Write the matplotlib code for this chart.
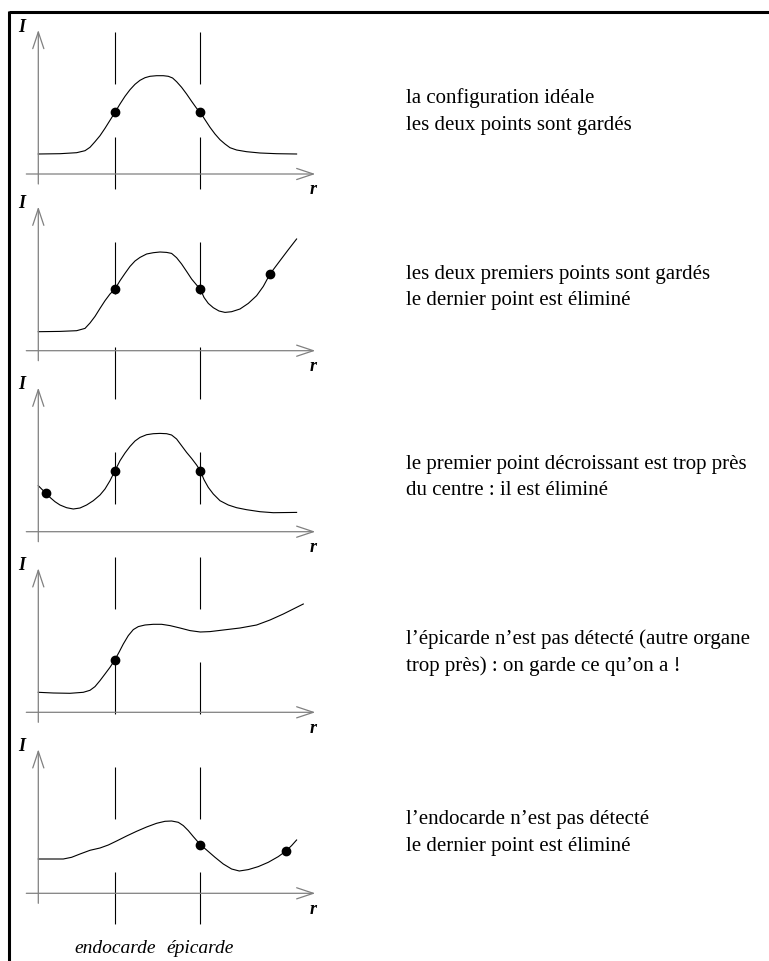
import numpy as np
import matplotlib.pyplot as plt
from matplotlib.lines import Line2D

plt.rcParams['font.family'] = ['Liberation Serif', 'DejaVu Serif']
plt.rcParams['lines.scale_dashes'] = False

# positions des deux contours sur l'axe r
r_endo = 7.7
r_epi = 16.2

# profils d'intensite I(r), un par cas
r1 = [0, 2.17, 3.83, 4.67, 5.17, 5.67, 6.17, 6.67, 7.17, 7.67, 8.17, 8.67, 9.17, 9.67, 10.17, 10.67,
      11.17, 11.83, 12.5, 13.0, 13.43, 13.83, 14.33, 14.83, 15.33, 15.83, 16.2, 16.67, 17.17, 17.67,
      18.17, 18.67, 19.17, 19.83, 20.83, 22.17, 23.83, 25.83]
I1 = [2.0, 2.03, 2.13, 2.33, 2.67, 3.23, 3.83, 4.57, 5.37, 6.17, 7.0, 7.77, 8.43, 8.97, 9.37, 9.63,
      9.77, 9.83, 9.83, 9.77, 9.6, 9.23, 8.67, 8.0, 7.27, 6.57, 6.17, 5.43, 4.67, 4.0,
      3.43, 3.0, 2.63, 2.4, 2.23, 2.1, 2.03, 2.0]

r2 = [0, 2.17, 3.83, 4.67, 5.17, 5.67, 6.17, 6.67, 7.17, 7.67, 8.17, 8.67, 9.17, 9.67, 10.17, 10.83,
      11.5, 12.17, 12.83, 13.33, 13.83, 14.33, 14.83, 15.33, 15.83, 16.2, 16.57, 17.0, 17.5, 18.07,
      18.67, 19.33, 20.17, 21.0, 21.83, 22.5, 23.17, 24.17, 25.0, 25.83]
I2 = [1.9, 1.93, 2.0, 2.23, 2.77, 3.43, 4.23, 5.0, 5.67, 6.17, 7.0, 7.73, 8.43, 8.97, 9.33, 9.67,
      9.8, 9.87, 9.83, 9.73, 9.3, 8.67, 7.93, 7.17, 6.57, 6.17, 5.33, 4.73, 4.3, 3.97,
      3.83, 3.9, 4.17, 4.73, 5.5, 6.43, 7.67, 9.0, 10.1, 11.17]

r3 = [0, 0.73, 1.17, 1.67, 2.17, 2.83, 3.5, 4.17, 4.83, 5.5, 6.17, 6.67, 7.17, 7.67, 8.17, 8.67,
      9.17, 9.67, 10.17, 10.83, 11.5, 12.17, 12.83, 13.33, 13.83, 14.33, 14.83, 15.33, 15.83, 16.2,
      16.57, 17.0, 17.5, 18.17, 19.0, 19.83, 20.83, 22.17, 23.5, 25.83]
I3 = [4.6, 3.87, 3.43, 3.0, 2.67, 2.4, 2.27, 2.37, 2.67, 3.1, 3.67, 4.27, 5.1, 6.1, 7.1, 7.87,
      8.53, 9.07, 9.43, 9.7, 9.8, 9.83, 9.8, 9.67, 9.27, 8.6, 7.93, 7.33, 6.67, 6.1,
      5.2, 4.43, 3.77, 3.1, 2.67, 2.4, 2.2, 2.0, 1.9, 1.93]

r4 = [0, 1.5, 3.17, 4.5, 5.17, 5.67, 6.17, 6.67, 7.17, 7.67, 8.07, 8.5, 9.0, 9.5, 10.0, 10.67,
      11.5, 12.33, 13.17, 14.17, 15.17, 16.2, 17.17, 18.5, 20.17, 21.83, 23.17, 24.5, 26.5]
I4 = [2.0, 1.93, 1.9, 2.0, 2.2, 2.57, 3.17, 3.83, 4.5, 5.27, 6.0, 6.83, 7.67, 8.27, 8.57, 8.73,
      8.8, 8.8, 8.67, 8.43, 8.17, 8.03, 8.07, 8.23, 8.43, 8.73, 9.23, 9.83, 10.83]

r5 = [0, 2.5, 3.33, 4.17, 5.17, 6.17, 7.0, 7.83, 8.83, 9.83, 10.83, 11.83, 12.67, 13.33, 14.0, 14.5,
      15.0, 15.5, 16.2, 16.83, 17.67, 18.5, 19.33, 20.1, 21.0, 22.0, 23.0, 24.0, 24.73, 25.33, 25.83]
I5 = [3.43, 3.43, 3.6, 3.93, 4.3, 4.53, 4.83, 5.23, 5.73, 6.2, 6.63, 7.0, 7.2, 7.23, 7.1, 6.77,
      6.27, 5.67, 4.87, 4.33, 3.6, 2.93, 2.43, 2.23, 2.37, 2.67, 3.1, 3.67, 4.2, 4.77, 5.33]

# points detectes
dots_r = [[7.67, 16.2], [7.67, 16.2, 23.17], [0.73, 7.67, 16.2], [7.67], [16.2, 24.73]]
dots_I = [[6.17, 6.17], [6.17, 6.17, 7.67], [3.87, 6.1, 6.1], [5.27], [4.87, 4.2]]

captions = [
    "la configuration idéale\nles deux points sont gardés",
    "les deux premiers points sont gardés\nle dernier point est éliminé",
    "le premier point décroissant est trop près\ndu centre : il est éliminé",
    "l’épicarde n’est pas détecté (autre organe\ntrop près) : on garde ce qu’on a !",
    "l’endocarde n’est pas détecté\nle dernier point est éliminé",
]

profiles = [(r1, I1), (r2, I2), (r3, I3), (r4, I4), (r5, I5)]

W, H = 769, 962
fig = plt.figure(figsize=(W / 100, H / 100), dpi=100)

# ligne de base (pixels depuis le haut) de chaque graphe et hauteur du texte
origins = [175, 351.7, 532.7, 713.3, 894.3]
cap_y = [7.2, 7.3, 6.4, 6.9, 7.0]
x0 = 38.3           # pixel de l'axe I
xmin = -x0 / 10
xmax = (W - x0) / 10
gray = '#808080'
arrow = dict(arrowstyle='->,head_length=0.6,head_width=0.2', color=gray, lw=0.9,
             shrinkA=0, shrinkB=0, mutation_scale=20)

for (r, I), dr, dI, cap, y0, cy in zip(profiles, dots_r, dots_I, captions, origins, cap_y):
    bottom = (H - (y0 + 25)) / H
    ax = fig.add_axes([0, bottom, 1, 180 / H])
    ax.set_xlim(xmin, xmax)
    ax.set_ylim(-2.5, 15.5)
    ax.axis('off')
    # axes avec fleches ouvertes
    ax.annotate('', xy=(27.7, 0), xytext=(-1.2, 0), arrowprops=arrow)
    ax.annotate('', xy=(0, 14.4), xytext=(0, -1.0), arrowprops=arrow)
    ax.text(-1.7, 14.8, 'I', fontsize=13, fontweight='bold', fontstyle='italic',
            ha='center', va='center')
    ax.text(27.5, -1.5, 'r', fontsize=13, fontweight='bold', fontstyle='italic',
            ha='center', va='center')
    ax.plot(r, I, color='black', lw=0.8, clip_on=False, solid_joinstyle='round')
    ax.plot(dr, dI, 'o', color='black', ms=6, clip_on=False)
    for k, line in enumerate(cap.split('\n')):
        ax.text(36.8, cy - 2.67 * k, line, fontsize=15, ha='left', va='baseline')

# calque pour les contours en pointilles et le cadre
bg = fig.add_axes([0, 0, 1, 1], zorder=-1)
bg.set_xlim(xmin, xmax)
bg.set_ylim(H, 0)
bg.axis('off')
for rv in [r_endo, r_epi]:
    bg.plot([rv, rv], [33, 930], color='black', lw=0.8, dashes=(37.4, 38.2))
bg.text(r_endo, 953, 'endocarde', fontsize=14, fontstyle='italic', ha='center', va='baseline')
bg.text(r_epi, 953, 'épicarde', fontsize=14, fontstyle='italic', ha='center', va='baseline')

fig.add_artist(Line2D([8.5 / W, 1], [1 - 13 / H] * 2, color='black', lw=2.2,
                      transform=fig.transFigure, solid_capstyle='butt'))
fig.add_artist(Line2D([8.5 / W] * 2, [1 - 11.9 / H, 0], color='black', lw=2.2,
                      transform=fig.transFigure, solid_capstyle='butt'))

fig.savefig('out.png', dpi=100, facecolor='white')
